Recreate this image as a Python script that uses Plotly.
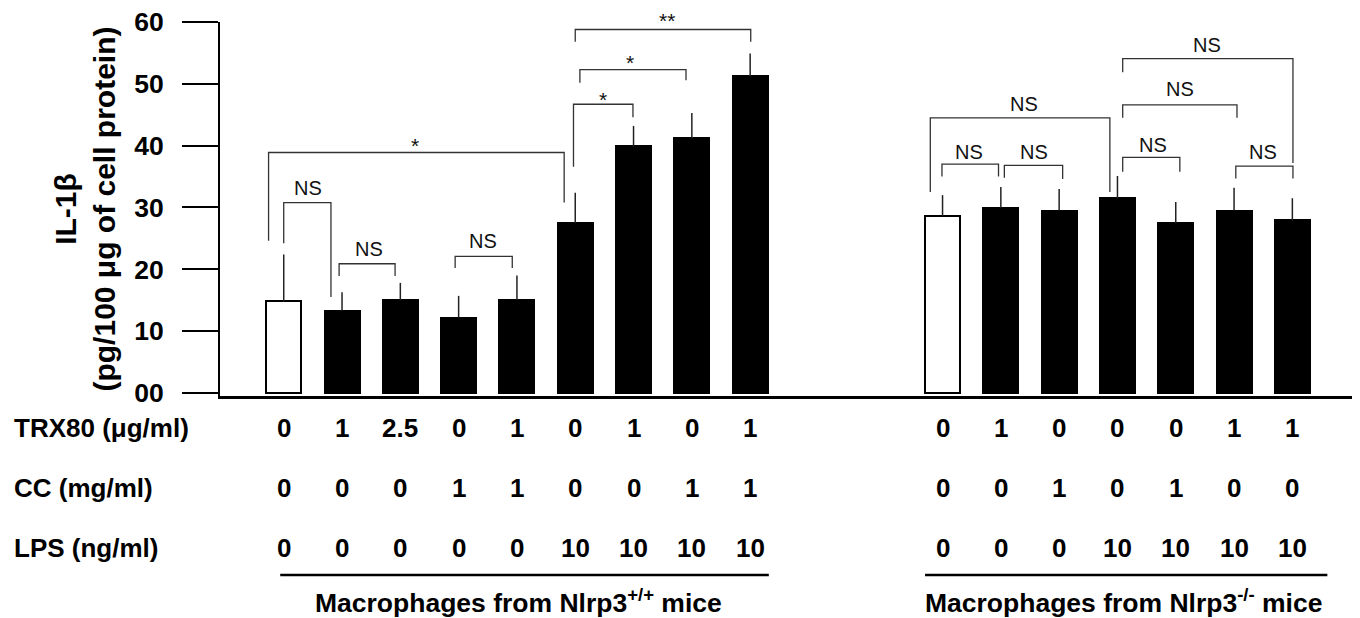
import plotly.graph_objects as go

# ---------------- data ----------------
positions = [0, 1, 2, 3, 4, 5, 6, 7, 8, 11.3, 12.3, 13.3, 14.3, 15.3, 16.3, 17.3]
means = [14.8, 13.3, 15.0, 12.2, 15.0, 27.5, 39.9, 41.2, 51.2,
         28.6, 29.9, 29.5, 31.5, 27.5, 29.5, 27.9]
errors = [7.6, 3.0, 2.8, 3.5, 4.0, 4.9, 3.3, 4.1, 3.7,
          3.4, 3.4, 3.5, 3.6, 3.4, 3.7, 3.6]
is_control = [True] + [False] * 8 + [True] + [False] * 6

trx80 = ["0", "1", "2.5", "0", "1", "0", "1", "0", "1",
         "0", "1", "0", "0", "0", "1", "1"]
cc = ["0", "0", "0", "1", "1", "0", "0", "1", "1",
      "0", "0", "1", "0", "1", "0", "0"]
lps = ["0", "0", "0", "0", "0", "10", "10", "10", "10",
       "0", "0", "0", "10", "10", "10", "10"]
row_labels = ["TRX80 (\u03bcg/ml)", "CC (mg/ml)", "LPS (ng/ml)"]

ytick_vals = [0, 10, 20, 30, 40, 50, 60]
ytick_text = ["00", "10", "20", "30", "40", "50", "60"]

# significance brackets: x1, x2, y_top, y_left_end, y_right_end, label, label_x, label_y
brackets = [
    (-0.26, 4.81, 38.9, 24.6, 30.8, "*", 2.25, 40.9),
    (0.0, 0.81, 30.8, 24.2, 15.5, "NS", 0.42, 33.2),
    (0.95, 1.91, 20.9, 18.9, 18.9, "NS", 1.46, 23.3),
    (2.94, 3.92, 22.1, 20.2, 20.2, "NS", 3.41, 24.6),
    (4.97, 5.99, 46.7, 36.6, 44.6, "*", 5.48, 48.2),
    (5.08, 6.90, 52.3, 50.2, 50.6, "*", 5.94, 54.2),
    (5.00, 8.01, 58.8, 56.8, 56.8, "**", 6.57, 61.1),
    (11.29, 12.26, 37.0, 35.0, 35.0, "NS", 11.75, 38.9),
    (12.36, 13.36, 36.8, 34.8, 34.6, "NS", 12.86, 38.9),
    (11.09, 14.17, 44.5, 32.5, 32.5, "NS", 12.69, 46.7),
    (14.39, 15.37, 38.1, 35.8, 35.8, "NS", 14.91, 40.1),
    (14.39, 16.35, 46.6, 44.5, 44.5, "NS", 15.37, 49.1),
    (16.33, 17.31, 36.7, 34.7, 34.7, "NS", 16.80, 38.9),
    (14.39, 17.31, 54.1, 51.9, 37.2, "NS", 15.84, 56.3),
]

groups = [
    ("Macrophages from Nlrp3<sup>+/+</sup> mice", -0.06, 8.32, 4.03),
    ("Macrophages from Nlrp3<sup>-/-</sup> mice", 11.0, 17.9, 14.4),
]

# ---------------- layout constants ----------------
OFF = 8  # default page margin of the html body
W, H = 1360 - OFF, 618 - OFF
ML = 220 - OFF
MT = 14
MB = 222
MR = 7
YMIN, YMAX = -0.5, 60
FONT = "Liberation Sans, Arial, Helvetica, sans-serif"
plot_top, plot_bot = MT, H - MB


def py2paper(py_page):
    py = py_page - OFF
    return (plot_bot - py) / (plot_bot - plot_top)


def px2paper(px_page):
    px = px_page - OFF
    return (px - ML) / (W - ML - MR)


def yval2paper(v):
    return (v - YMIN) / (YMAX - YMIN)


fig = go.Figure()
fig.add_trace(go.Bar(
    x=positions, y=means, width=0.6,
    marker=dict(color=["white" if c else "black" for c in is_control],
                line=dict(color="black", width=2)),
    error_y=dict(type="data", symmetric=False, array=errors,
                 arrayminus=[0] * len(errors), width=0, thickness=1.5,
                 color="#222222"),
    showlegend=False,
))

shapes = []
annotations = []
for x1, x2, yt, yl, yr, lab, lx, ly in brackets:
    shapes.append(dict(type="path", xref="x", yref="y",
                       path=f"M {x1},{yl} L {x1},{yt} L {x2},{yt} L {x2},{yr}",
                       line=dict(color="#333333", width=1.3)))
    annotations.append(dict(x=lx, y=yval2paper(ly), xref="x", yref="paper", text=lab,
                            showarrow=False,
                            font=dict(family=FONT, size=20 if lab == "NS" else 21,
                                      color="#111111"),
                            yanchor="middle",
                            yshift=0 if lab == "NS" else -5))

row_py = [428.3, 488.3, 548.3]
rows = [trx80, cc, lps]
for lbl, py, vals in zip(row_labels, row_py, rows):
    annotations.append(dict(x=px2paper(12), y=py2paper(py), xref="paper", yref="paper",
                            text=lbl, showarrow=False, xanchor="left", yanchor="middle",
                            font=dict(family=FONT, size=26, color="black", weight=700)))
    for xp, v in zip(positions, vals):
        annotations.append(dict(x=xp, y=py2paper(py), xref="x", yref="paper",
                                text=v, showarrow=False, xanchor="center", yanchor="middle",
                                font=dict(family=FONT, size=26, color="black", weight=700)))

for txt, x1, x2, xc in groups:
    shapes.append(dict(type="line", xref="x", yref="paper", x0=x1, x1=x2,
                       y0=py2paper(575), y1=py2paper(575),
                       line=dict(color="black", width=2.5)))
    annotations.append(dict(x=xc, y=py2paper(601), xref="x", yref="paper", text=txt,
                            showarrow=False, xanchor="center", yanchor="middle",
                            font=dict(family=FONT, size=26.5, color="black", weight=700)))

fig.update_layout(
    width=W, height=H,
    margin=dict(l=ML, r=MR, t=MT, b=MB, autoexpand=False),
    paper_bgcolor="white", plot_bgcolor="white",
    shapes=shapes, annotations=annotations,
    bargap=0,
    xaxis=dict(range=[-1.093, 18.34], showgrid=False, zeroline=False,
               showticklabels=False, ticks="", showline=True,
               linecolor="black", linewidth=2.5),
    yaxis=dict(range=[YMIN, YMAX + 0.01], showgrid=False, zeroline=False,
               tickvals=ytick_vals, ticktext=ytick_text,
               ticks="outside", ticklen=36, tickwidth=2, tickcolor="black",
               showline=True, linecolor="black", linewidth=2,
               ticklabelstandoff=13, ticklabeloverflow="allow",
               tickfont=dict(family=FONT, size=26.5, color="black", weight=700),
               title=dict(text="IL-1\u03b2<br>(pg/100 \u03bcg of cell protein)",
                          font=dict(family=FONT, size=30, color="black", weight=700),
                          standoff=10)),
)

fig.write_html("out.html")
